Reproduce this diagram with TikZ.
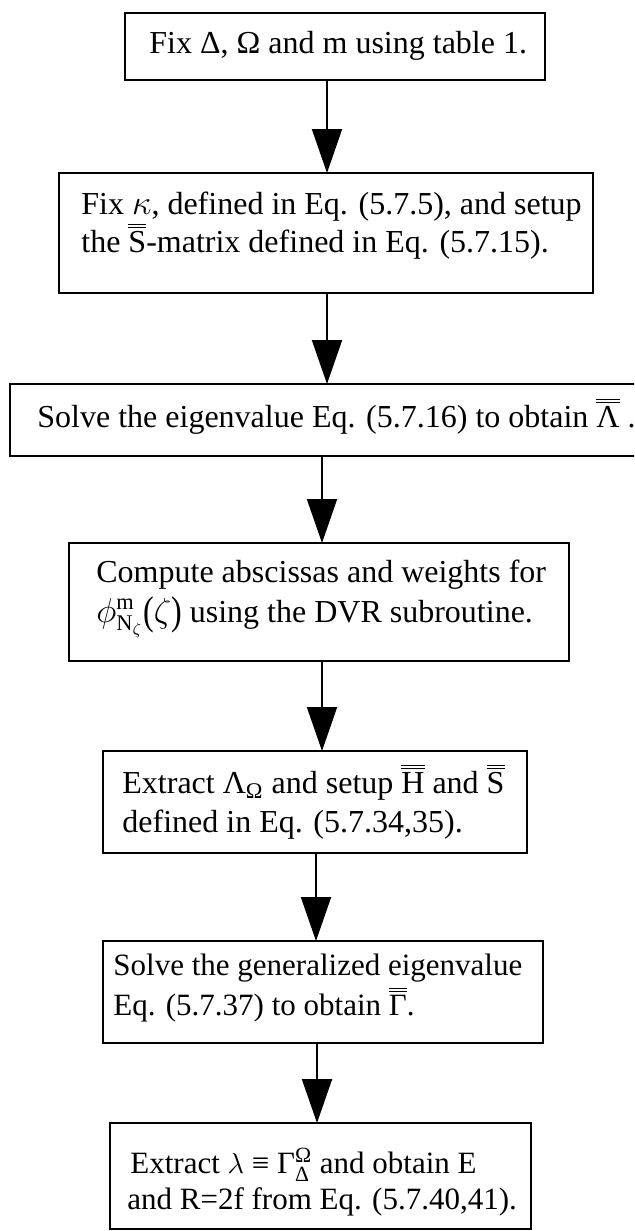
\documentclass[tikz,border=0pt]{standalone}
\usepackage{fontspec}
\usepackage{amsmath}
\usepackage{graphicx}
\setmainfont{Liberation Serif}
\usetikzlibrary{arrows.meta,fit}

% letter with a double overbar
\newsavebox\dblbarbox
\newcommand\dblbar[1]{\sbox\dblbarbox{#1}%
  \rlap{\raisebox{\dimexpr\ht\dblbarbox+1.6pt\relax}{\rule{\wd\dblbarbox}{0.45pt}}}%
  \rlap{\raisebox{\dimexpr\ht\dblbarbox+3.1pt\relax}{\rule{\wd\dblbarbox}{0.45pt}}}%
  \usebox\dblbarbox}
% tall, thin parentheses
\newcommand\tallparen[1]{\raisebox{-1.2pt}{\scalebox{1}[1.25]{#1}}}

\begin{document}
\begin{tikzpicture}[x=0.5pt,y=-0.5pt,
  box/.style={draw, line width=1.2pt, inner sep=0pt, outer sep=0pt},
  txt/.style={anchor=base west, inner sep=0pt, font=\fontsize{16}{18}\selectfont},
  txts/.style={txt, font=\fontsize{15.5}{18}\selectfont},
  flow/.style={line width=1pt, -{Triangle[width=15pt,length=22pt]}}]

\useasboundingbox (0,0) rectangle (634,1231);
\clip (0,0) rectangle (634,1231);

% boxes
\node[box, fit={(125,13) (545,80)}]    (b1) {};
\node[box, fit={(59,173) (593,293)}]   (b2) {};
\node[box, fit={(10,384) (660,456)}]   (b3) {};
\node[box, fit={(69,543) (569,661)}]   (b4) {};
\node[box, fit={(103,751) (527,853)}]  (b5) {};
\node[box, fit={(103,941) (543,1043)}] (b6) {};
\node[box, fit={(110,1123) (531,1229)}] (b7) {};

% texts
\node[txt] (t1)  at (149,53)  {Fix Δ, Ω and m using table 1.};
\node[txt] (t2a) at (81,214)  {Fix $\kappa$, defined in Eq. (5.7.5), and setup};
\node[txt] (t2b) at (81,252)  {the \dblbar{S}-matrix defined in Eq. (5.7.15).};
\node[txt] (t3)  at (37,427)  {Solve the eigenvalue Eq. (5.7.16) to obtain \dblbar{Λ} .};
\node[txt] (t4a) at (96,582)  {Compute abscissas and weights for};
\node[txt] (t4b) at (96,622)  {$\phi^{\text{m}}_{\text{N}_{\zeta}}$\tallparen{(}$\zeta$\tallparen{)} using the DVR subroutine.};
\node[txt] (t5a) at (122,793) {Extract Λ$_{\text{Ω}}$ and setup \dblbar{H} and \dblbar{S}};
\node[txt] (t5b) at (122,832) {defined in Eq. (5.7.34,35).};
\node[txts] (t6a) at (113,975) {Solve the generalized eigenvalue};
\node[txts] (t6b) at (113,1015) {Eq. (5.7.37) to obtain \dblbar{Γ}.};
\node[txts] (t7a) at (130,1173) {Extract $\lambda$ ≡ Γ$^{\text{Ω}}_{\text{Δ}}$ and obtain E};
\node[txts] (t7b) at (127,1209) {and R=2f from Eq. (5.7.40,41).};

% arrow positions
\coordinate (x1) at (327,0);
\coordinate (x2) at (327,0);
\coordinate (x3) at (322,0);
\coordinate (x4) at (322,0);
\coordinate (x5) at (316,0);
\coordinate (x6) at (317,0);

\draw[flow] (b1.south -| x1) -- (b2.north -| x1);
\draw[flow] (b2.south -| x2) -- (b3.north -| x2);
\draw[flow] (b3.south -| x3) -- (b4.north -| x3);
\draw[flow] (b4.south -| x4) -- (b5.north -| x4);
\draw[flow] (b5.south -| x5) -- (b6.north -| x5);
\draw[flow] (b6.south -| x6) -- (b7.north -| x6);
\end{tikzpicture}
\end{document}
